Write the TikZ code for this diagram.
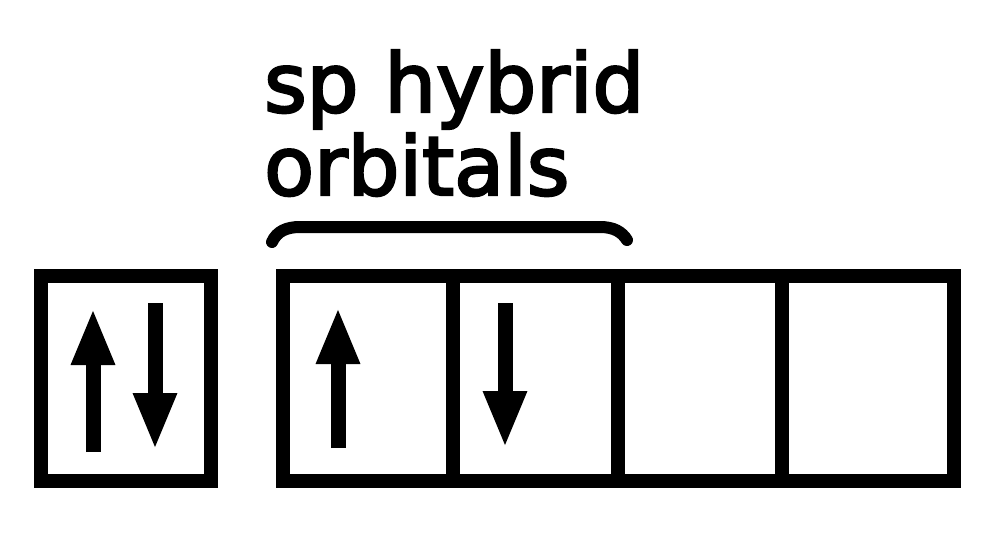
\documentclass[tikz,border=0pt]{standalone}
\usepackage{fontspec}
\newfontfamily\labelfont[BoldFont={DejaVu Sans},BoldFeatures={FakeBold=3}]{DejaVu Sans}
\usetikzlibrary{arrows.meta}
\begin{document}
\begin{tikzpicture}[x=1pt,y=-1pt,
  cellbox/.style={draw=black,line width=14pt,rectangle,inner sep=0pt,outer sep=0pt,minimum height=205pt},
  spin/.style={line width=15pt,-{Triangle[length=57pt,width=40pt]}},
  brace/.style={line width=12pt,line cap=round},
  lab/.style={font=\labelfont\bfseries\fontsize{81.6}{83}\selectfont,inner sep=0pt,anchor=base west}]
\useasboundingbox (0,0) rectangle (984,535);
% orbital boxes
\node[cellbox,minimum width=170pt] (core) at (126,378.5) {};
\node[cellbox,minimum width=170pt] (h1) at (368,378.5) {};
\node[cellbox,minimum width=165pt] (h2) at (535.5,378.5) {};
\node[cellbox,minimum width=164pt] (p1) at (700,378.5) {};
\node[cellbox,minimum width=172pt] (p2) at (868,378.5) {};
% spin arrows
\coordinate (cu0) at (93,452);  \coordinate (cu1) at (93,308);
\coordinate (cd0) at (155,303); \coordinate (cd1) at (155,450);
\coordinate (hu0) at (338,448); \coordinate (hu1) at (338,307);
\coordinate (hd0) at (505,303); \coordinate (hd1) at (505,448);
\draw[spin] (cu0) -- (cu1);
\draw[spin] (cd0) -- (cd1);
\draw[spin] (hu0) -- (hu1);
\draw[spin] (hd0) -- (hd1);
% brace over the sp hybrid orbitals
\coordinate (bl) at (272,242);
\coordinate (br) at (627,240);
\draw[brace] (bl) .. controls (277,231) and (287,227) .. (300,227) -- (600,227) .. controls (614,227) and (622,232) .. (br);
% label
\node[lab] (t1) at (264,112) {sp hybrid};
\node[lab] (t2) at (264,195) {orbitals};
\end{tikzpicture}
\end{document}
